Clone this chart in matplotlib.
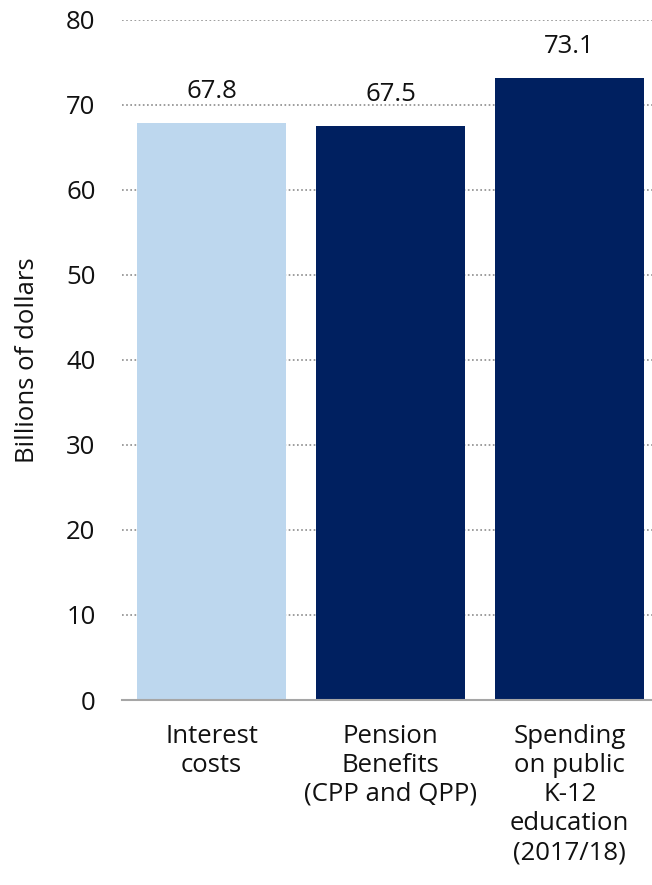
import matplotlib
matplotlib.use("Agg")
import matplotlib.pyplot as plt

categories = ["Interest\ncosts", "Pension\nBenefits\n(CPP and QPP)", "Spending\non public\nK-12\neducation\n(2017/18)"]
values = [67.8, 67.5, 73.1]
colors = ["#BDD7EE", "#002060", "#002060"]
yticks = [0, 10, 20, 30, 40, 50, 60, 70, 80]

plt.rcParams['font.family'] = ['Open Sans', 'DejaVu Sans']

W, H = 652, 885
fig = plt.figure(figsize=(W/100, H/100), dpi=100)
left, right, bottom, top = 122, 652, 700, 19.5
ax = fig.add_axes([left/W, 1 - bottom/H, (right-left)/W, (bottom-top)/H])

fs = 18.5
x = list(range(len(values)))
bars = ax.bar(x, values, width=0.835, color=colors, zorder=3)
ax.set_xlim(-0.5, 2.46)
ax.set_ylim(0, 80)
ax.set_yticks(yticks)
ax.set_yticklabels([str(t) for t in yticks], fontsize=fs, color='#111111')
ax.set_xticks(x)
ax.set_xticklabels(categories, fontsize=fs, linespacing=1.22, color='#111111')
ax.tick_params(axis='y', length=0, pad=19)
ax.tick_params(axis='x', length=0, pad=17)
for s in ['top', 'right', 'left']:
    ax.spines[s].set_visible(False)
ax.spines['bottom'].set_color('#A6A6A6')
ax.spines['bottom'].set_linewidth(1.5)
ax.spines['bottom'].set_zorder(4)
for t in yticks[1:]:
    ax.axhline(t, color='#8C8C8C', linestyle=(0, (1, 1.5)), linewidth=1.2, zorder=1)

for b, v in zip(bars, values):
    ax.annotate(f"{v:.1f}", (b.get_x() + b.get_width()/2, v), xytext=(0, 19),
                textcoords='offset pixels', ha='center', va='bottom', fontsize=fs, color='#111111')

ax.set_ylabel("Billions of dollars", fontsize=fs, labelpad=19, color='#111111')

fig.savefig("out.png", dpi=100)
